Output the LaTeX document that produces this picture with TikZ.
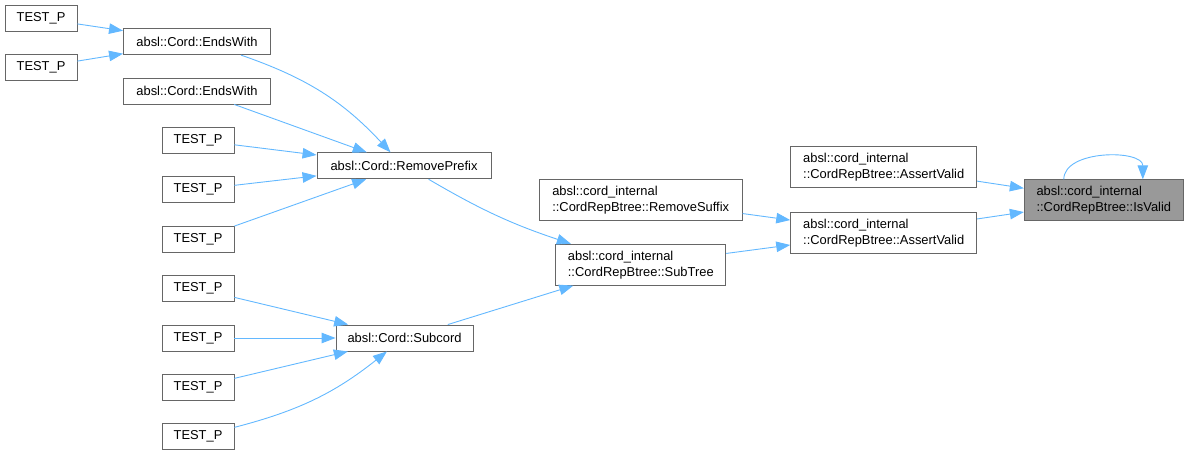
\documentclass[tikz,border=0pt]{standalone}
\usepackage{fontspec}
\setmainfont{Liberation Sans}
\usepackage{xcolor}
\usepackage{tikz}
\usetikzlibrary{arrows.meta}
\definecolor{edgeblue}{HTML}{63B8FF}
\definecolor{boxline}{HTML}{666666}

\begin{document}
\begin{tikzpicture}[
  x=1pt,y=-1pt,
  font=\fontsize{12.9}{16}\selectfont,
  box/.style={draw=boxline,fill=white,line width=0.9pt,inner xsep=3pt,minimum height=26pt},
  box2/.style={box,align=left,minimum height=41pt},
  edge/.style={->,draw=edgeblue,line width=0.9pt},
  >={Triangle[length=14pt,width=10.5pt]}]
\useasboundingbox (0,0) rectangle (1190,455);
% callers on the far left
\node[box,minimum width=72pt] (tpa) at (41,18.5) {TEST\_P};
\node[box,minimum width=72pt] (tpb) at (41,67) {TEST\_P};
\node[box,minimum width=147pt] (ew1) at (197,41.7) {absl::Cord::EndsWith};
\node[box,minimum width=147pt] (ew2) at (197,91) {absl::Cord::EndsWith};
\node[box,minimum width=72pt] (tpc) at (198,140.3) {TEST\_P};
\node[box,minimum width=72pt] (tpd) at (198,189.5) {TEST\_P};
\node[box,minimum width=72pt] (tpe) at (198,239) {TEST\_P};
\node[box,minimum width=72pt] (tpf) at (198,288.7) {TEST\_P};
\node[box,minimum width=72pt] (tpg) at (198,338) {TEST\_P};
\node[box,minimum width=72pt] (tph) at (198,387) {TEST\_P};
\node[box,minimum width=72pt] (tpi) at (198,436) {TEST\_P};
\node[box,minimum width=174pt] (rp) at (404,165.8) {absl::Cord::RemovePrefix};
\node[box,minimum width=137pt] (sc) at (404.5,338) {absl::Cord::Subcord};
% btree functions
\node[box2,minimum width=203pt] (rs) at (640.7,199.7) {absl::cord\_internal\\::CordRepBtree::RemoveSuffix};
\node[box2,minimum width=170pt] (st) at (640.8,264.7) {absl::cord\_internal\\::CordRepBtree::SubTree};
\node[box2,minimum width=186pt] (av1) at (883.7,167) {absl::cord\_internal\\::CordRepBtree::AssertValid};
\node[box2,minimum width=186pt] (av2) at (883.7,232.7) {absl::cord\_internal\\::CordRepBtree::AssertValid};
\node[box2,minimum width=159pt,fill=black!40] (iv) at (1103.8,200.3) {absl::cord\_internal\\::CordRepBtree::IsValid};
\draw[edge] (tpa)--(ew1); \draw[edge] (tpb)--(ew1);
\draw[edge] (ew1) to[bend left=14] (rp); \draw[edge] (ew2)--(rp);
\draw[edge] (tpc)--(rp); \draw[edge] (tpd)--(rp); \draw[edge] (tpe)--(rp);
\draw[edge] (tpf)--(sc); \draw[edge] (tpg)--(sc); \draw[edge] (tph)--(sc);
\draw[edge] (tpi) to[bend right=12] (sc);
\draw[edge] (rp) to[bend right=6] (st); \draw[edge] (sc)--(st);
\draw[edge] (rs)--(av2); \draw[edge] (st)--(av2);
\draw[edge] (av1)--(iv); \draw[edge] (av2)--(iv);
\draw[edge] ([xshift=-40pt]iv.north) .. controls +(0,-30) and +(0,-30) .. ([xshift=39pt]iv.north);
\end{tikzpicture}
\end{document}
